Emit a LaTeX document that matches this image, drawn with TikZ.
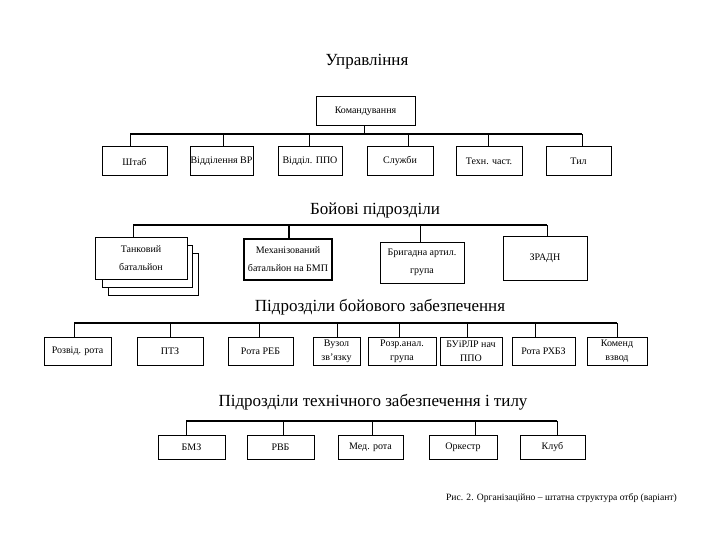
\documentclass[tikz,border=0pt]{standalone}
\usepackage{fontspec}
\setmainfont{Liberation Serif}
\begin{document}
\begin{tikzpicture}[x=1pt,y=-1pt,
  box/.style={draw, line width=1pt, fill=white, align=center, inner sep=0.5pt,
    font=\fontsize{10}{14}\selectfont},
  bigbox/.style={box, font=\fontsize{10}{18}\selectfont},
  ttl/.style={inner sep=0pt, font=\fontsize{17}{20}\selectfont},
  bus/.style={line width=1.2pt},
  stem/.style={line width=0.9pt}]
\useasboundingbox (0,0) rectangle (720,540);
\fill[white] (0,0) rectangle (720,540);

% ---------- Управління ----------
\node[ttl] (t1) at (367,62) {Управління};
\node[box, minimum width=99pt, minimum height=29pt] (cmd) at (365.5,111.5) {Командування};
\coordinate (u1) at (130,134);
\coordinate (u2) at (582,134);
\draw[bus] (u1) -- (u2);
\draw[stem] ([xshift=-1.5pt]cmd.south) -- ([xshift=-1.5pt]cmd.south |- u1);
\node[box, minimum width=65pt, minimum height=29pt] (shtab) at (134.5,161.5) {Штаб};
\node[box, minimum width=63pt, minimum height=29pt] (vr) at (221.5,161.5) {Відділення ВР};
\node[box, minimum width=64pt, minimum height=29pt] (ppo) at (310,161.5) {Відділ. ППО};
\node[box, minimum width=66pt, minimum height=29pt] (sl) at (400,161.5) {Служби};
\node[box, minimum width=66pt, minimum height=29pt] (teh) at (489,161.5) {Техн. част.};
\node[box, minimum width=65pt, minimum height=29pt] (tyl) at (578.5,161.5) {Тил};
\draw[stem] ([xshift=-4.5pt]shtab.north) -- ([xshift=-4.5pt]shtab.north |- u1);
\draw[stem] ([xshift=1.5pt]vr.north) -- ([xshift=1.5pt]vr.north |- u1);
\draw[stem] ([xshift=-1pt]ppo.north) -- ([xshift=-1pt]ppo.north |- u1);
\draw[stem] ([xshift=8pt]sl.north) -- ([xshift=8pt]sl.north |- u1);
\draw[stem] ([xshift=-1pt]teh.north) -- ([xshift=-1pt]teh.north |- u1);
\draw[stem] ([xshift=3.5pt]tyl.north) -- ([xshift=3.5pt]tyl.north |- u1);

% ---------- Бойові підрозділи ----------
\node[ttl] (t2) at (375,210) {Бойові підрозділи};
\coordinate (b1) at (133,225);
\coordinate (b2) at (547,225);
\draw[bus] (b1) -- (b2);
\node[bigbox, minimum width=90pt, minimum height=42pt] (tank3) at (153,274) {};
\node[bigbox, minimum width=90pt, minimum height=42pt] (tank2) at (147,266.5) {};
\node[bigbox, minimum width=92pt, minimum height=42pt] (tank) at (141,258) {Танковий\\батальйон};
\node[bigbox, line width=1.7pt, minimum width=88pt, minimum height=41pt] (mech) at (288,259.5) {Механізований\\батальйон на БМП};
\node[bigbox, minimum width=84pt, minimum height=41pt] (art) at (422,262.5) {Бригадна артил.\\група};
\node[bigbox, minimum width=84pt, minimum height=44pt] (zr) at (545,258) {ЗРАДН};
\draw[stem] ([xshift=-8pt]tank.north) -- ([xshift=-8pt]tank.north |- b1);
\draw[stem, line width=1.3pt] ([xshift=1pt]mech.north) -- ([xshift=1pt]mech.north |- b1);
\draw[stem] ([xshift=-2pt]art.north) -- ([xshift=-2pt]art.north |- b1);
\draw[stem] ([xshift=2pt]zr.north) -- ([xshift=2pt]zr.north |- b1);

% ---------- Підрозділи бойового забезпечення ----------
\node[ttl] (t3) at (380,307) {Підрозділи бойового забезпечення};
\coordinate (c1) at (74,323);
\coordinate (c2) at (617,323);
\draw[bus] (c1) -- (c2);
\node[box, minimum width=67pt, minimum height=28pt] (rozv) at (77.5,351) {Розвід. рота};
\node[box, minimum width=66pt, minimum height=28pt] (ptz) at (170,351) {ПТЗ};
\node[box, minimum width=65pt, minimum height=28pt] (reb) at (260.5,351) {Рота РЕБ};
\node[box, minimum width=47pt, minimum height=28pt] (vuz) at (336.5,351) {Вузол\\зв’язку};
\node[box, minimum width=68pt, minimum height=28pt] (rozr) at (402,351) {Розр.анал.\\група};
\node[box, minimum width=62pt, minimum height=28pt] (buir) at (471,351) {БУіРЛР нач\\ППО};
\node[box, minimum width=63pt, minimum height=28pt] (rhbz) at (543.5,351) {Рота РХБЗ};
\node[box, minimum width=60pt, minimum height=28pt] (kom) at (617,351) {Коменд\\взвод};
\draw[stem] ([xshift=-3.5pt]rozv.north) -- ([xshift=-3.5pt]rozv.north |- c1);
\draw[stem] (ptz.north) -- (ptz.north |- c1);
\draw[stem] ([xshift=-1.5pt]reb.north) -- ([xshift=-1.5pt]reb.north |- c1);
\draw[stem] ([xshift=0.5pt]vuz.north) -- ([xshift=0.5pt]vuz.north |- c1);
\draw[stem] ([xshift=-3pt]rozr.north) -- ([xshift=-3pt]rozr.north |- c1);
\draw[stem] ([xshift=-4pt]buir.north) -- ([xshift=-4pt]buir.north |- c1);
\draw[stem] ([xshift=-8.5pt]rhbz.north) -- ([xshift=-8.5pt]rhbz.north |- c1);
\draw[stem] (kom.north) -- (kom.north |- c1);

% ---------- Підрозділи технічного забезпечення і тилу ----------
\node[ttl] (t4) at (373,402) {Підрозділи технічного забезпечення і тилу};
\coordinate (d1) at (186,421);
\coordinate (d2) at (557,421);
\draw[bus] (d1) -- (d2);
\node[box, minimum width=67pt, minimum height=24pt] (bmz) at (191.5,447) {БМЗ};
\node[box, minimum width=67pt, minimum height=24pt] (rvb) at (280.5,447) {РВБ};
\node[box, minimum width=65pt, minimum height=24pt] (med) at (370.5,447) {Мед. рота};
\node[box, minimum width=68pt, minimum height=24pt] (ork) at (463,447) {Оркестр};
\node[box, minimum width=65pt, minimum height=24pt] (klub) at (552.5,447) {Клуб};
\draw[stem] ([xshift=-5.5pt]bmz.north) -- ([xshift=-5.5pt]bmz.north |- d1);
\draw[stem] ([xshift=2.5pt]rvb.north) -- ([xshift=2.5pt]rvb.north |- d1);
\draw[stem] ([xshift=1.5pt]med.north) -- ([xshift=1.5pt]med.north |- d1);
\draw[stem] ([xshift=12pt]ork.north) -- ([xshift=12pt]ork.north |- d1);
\draw[stem] ([xshift=4.5pt]klub.north) -- ([xshift=4.5pt]klub.north |- d1);

% ---------- Caption ----------
\node[inner sep=0pt, font=\fontsize{9.6}{11}\selectfont] (cap) at (561.5,498) {Рис. 2. Організаційно – штатна структура отбр (варіант)};
\end{tikzpicture}
\end{document}
